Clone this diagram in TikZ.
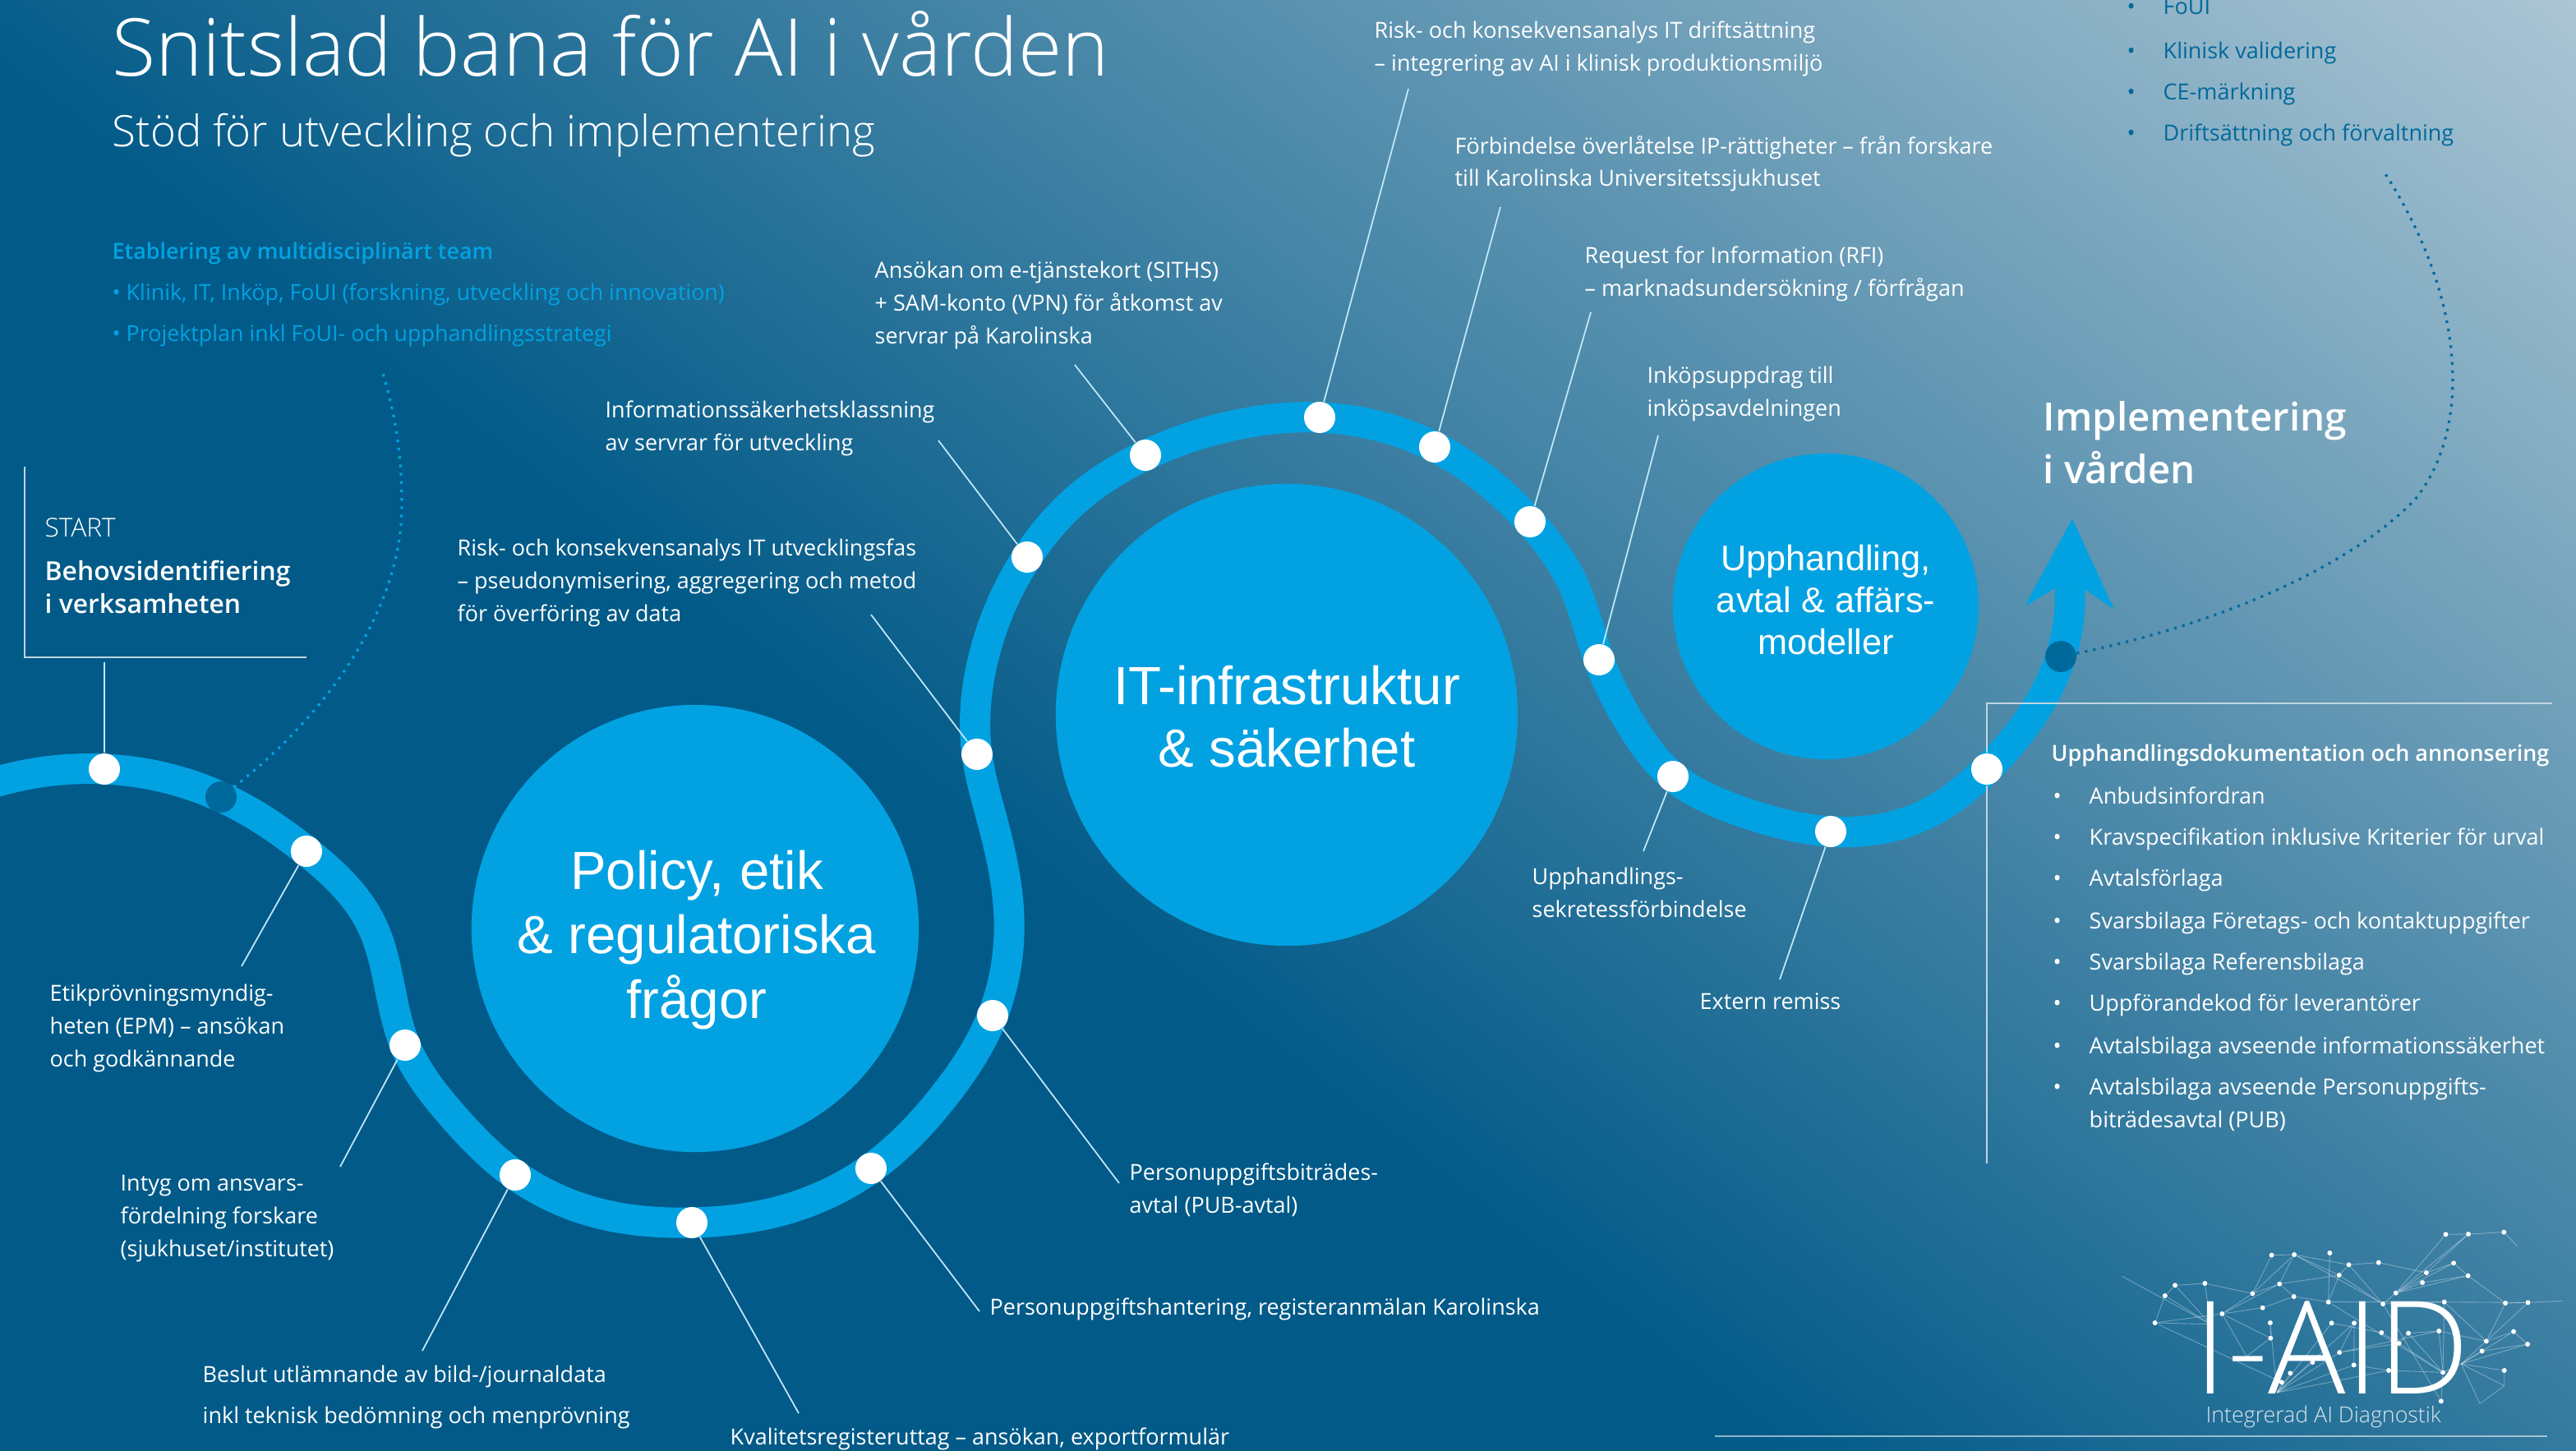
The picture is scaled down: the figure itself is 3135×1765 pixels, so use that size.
\documentclass[tikz,border=0pt]{standalone}
\usepackage{fontspec}
\usetikzlibrary{hobby}
\setmainfont{Open Sans}
\newfontfamily\lightfont{Open Sans Light}
\newfontfamily\semifont{Open Sans Semibold}
\newfontfamily\arialfont{Liberation Sans}

\definecolor{bgdark}{HTML}{015A88}
\definecolor{bglight}{HTML}{ABC5D4}
\definecolor{bgend}{HTML}{C8DAE4}
\definecolor{bandblue}{HTML}{02A2E2}
\definecolor{dotblue}{HTML}{00699B}
\pgfdeclarehorizontalshading{bgshade}{100bp}{color(0bp)=(bgdark); color(45.7bp)=(bgdark); color(70.7bp)=(bglight); color(75bp)=(bgend); color(100bp)=(bgend)}

\tikzset{
	band/.style={bandblue,line width=0.37cm},
	bubble/.style={circle,fill=bandblue,inner sep=0pt},
	bubbletext/.style={text=white,align=center,inner sep=0pt},
	whitedot/.style={circle,fill=white,minimum size=0.38cm,inner sep=0pt},
	darkdot/.style={circle,fill=dotblue,minimum size=0.38cm,inner sep=0pt},
	leader/.style={white!75!bandblue,line width=0.5pt},
	frameline/.style={white!75!bgdark,line width=0.5pt},
	lbl/.style={anchor=west,align=left,inner sep=0pt,text=white,font=\fontsize{7.67}{11.34}\selectfont,execute at begin node=\strut,execute at end node=\strut},
	bluelbl/.style={lbl,text=bandblue},
	darklbl/.style={lbl,text=dotblue},
	semilbl/.style={lbl,font=\fontsize{7.65}{11.34}\selectfont\semifont},
	netdot/.style={circle,fill=white,minimum size=0.06cm,inner sep=0pt},
	netline/.style={white,opacity=0.35,line width=0.25pt}
}

\begin{document}
\begin{tikzpicture}[x=0.01cm,y=-0.01cm]
	\useasboundingbox (0,0) rectangle (3135,1765);
	%background
	\begin{scope}
		\clip (0,0) rectangle (3135,1765);
		\shade[shading=bgshade,transform canvas={rotate around={52.3:(1567,882)}}] (-433,-1118) rectangle (3567,2882);
	\end{scope}

	%title
	\node[lbl,font=\fontsize{27.6}{32}\selectfont\lightfont] (title) at (136,70) {Snitslad bana för AI i vården};
	\node[lbl,font=\fontsize{15}{18}\selectfont\lightfont] (subtitle) at (136,166) {Stöd för utveckling och implementering};

	%team
	\node[bluelbl,font=\fontsize{7.65}{11.34}\selectfont\semifont] (team) at (136,308) {Etablering av multidisciplinärt team};
	\node[bluelbl,font=\fontsize{7.63}{11.34}\selectfont] (team1) at (136,358) {• Klinik, IT, Inköp, FoUI (forskning, utveckling och innovation)};
	\node[bluelbl,font=\fontsize{7.63}{11.34}\selectfont] (team2) at (136,408) {• Projektplan inkl FoUI- och upphandlingsstrategi};

	%band
	\draw[band,use Hobby shortcut] (-30,960) .. (127,936) .. (269,970) .. (373,1036) .. (452,1125) .. (493,1272) .. (550,1357) .. (627,1430) .. (722,1475) .. (842,1488) .. (956,1472) .. (1060,1422) .. (1148,1335) .. (1208,1236) .. (1228,1117) .. (1208,1000) .. (1189,918) .. (1197,800) .. (1250,678) .. (1310,608) .. (1394,554) .. (1500,518) .. (1606,508) .. (1746,544) .. (1862,635) .. (1915,712) .. (1946,803) .. (1985,882) .. (2036,945) .. (2117,987) .. (2228,1012) .. (2335,995) .. (2418,936) .. (2470,875) .. (2508,799) .. (2519,716);
	\fill[bandblue] (2522,631) -- (2573,742) -- (2537,717) -- (2501,716) -- (2464,738) -- cycle;%head

	%circles
	\node[bubble,minimum size=5.44cm] (policy) at (846,1130) {};
	\node[bubble,minimum size=5.62cm] (infra) at (1566,870) {};
	\node[bubble,minimum size=3.72cm] (avtal) at (2222,738) {};
	\node[bubbletext,font=\fontsize{18.6}{22.3}\selectfont\arialfont] (policytext) at (848,1144) {Policy, etik\\\& regulatoriska\\frågor};
	\node[bubbletext,font=\fontsize{18.6}{21.5}\selectfont\arialfont] (infratext) at (1566,872) {IT-infrastruktur\\\& säkerhet};
	\node[bubbletext,font=\fontsize{12.3}{14.5}\selectfont\arialfont] (avtaltext) at (2222,730) {Upphandling,\\avtal \& affärs-\\modeller};

	%start box
	\node[lbl,font=\fontsize{9}{11}\selectfont\lightfont] (start) at (54,646) {START};
	\node[semilbl,font=\fontsize{9.05}{11.34}\selectfont\semifont] (behov) at (54,720) {Behovsidentifiering\\i verksamheten};
	\coordinate (boxtop) at (30,568);
	\coordinate (boxcorner) at (30,800);
	\coordinate (boxend) at (373,800);
	\coordinate (boxstem) at (127,806);
	\draw[frameline] (boxtop) -- (boxcorner) -- (boxend);

	%labels
	\node[lbl] (epm) at (60,1254) {Etikprövningsmyndig-\\heten (EPM) – ansökan\\och godkännande};
	\node[lbl] (intyg) at (146,1486) {Intyg om ansvars-\\fördelning forskare\\(sjukhuset/institutet)};
	\node[lbl] (beslut) at (246,1703) {Beslut utlämnande av bild-/journaldata\\[1mm]inkl teknisk bedömning och menprövning};
	\node[lbl] (kvalitet) at (888,1750) {Kvalitetsregisteruttag – ansökan, exportformulär};
	\node[lbl] (hantering) at (1204,1592) {Personuppgiftshantering, registeranmälan Karolinska};
	\node[lbl] (bitrade) at (1374,1452) {Personuppgiftsbiträdes-\\avtal (PUB-avtal)};
	\node[lbl] (riskutv) at (556,712) {Risk- och konsekvensanalys IT utvecklingsfas\\– pseudonymisering, aggregering och metod\\för överföring av data};
	\node[lbl] (klass) at (736,524) {Informationssäkerhetsklassning\\av servrar för utveckling};
	\node[lbl] (siths) at (1064,374) {Ansökan om e-tjänstekort (SITHS)\\+ SAM-konto (VPN) för åtkomst av\\servrar på Karolinska};
	\node[lbl] (riskdrift) at (1672,62) {Risk- och konsekvensanalys IT driftsättning\\– integrering av AI i klinisk produktionsmiljö};
	\node[lbl] (ip) at (1770,202) {Förbindelse överlåtelse IP-rättigheter – från forskare\\till Karolinska Universitetssjukhuset};
	\node[lbl] (rfi) at (1928,336) {Request for Information (RFI)\\– marknadsundersökning / förfrågan};
	\node[lbl] (inkop) at (2004,482) {Inköpsuppdrag till\\inköpsavdelningen};
	\node[lbl] (sekretess) at (1864,1092) {Upphandlings-\\sekretessförbindelse};
	\node[lbl] (remiss) at (2068,1220) {Extern remiss};
	\node[lbl,font=\fontsize{13.5}{18}\selectfont\semifont] (impl) at (2486,548) {Implementering\\i vården};

	%free ends of leaders
	\coordinate (l2) at (294,1176);
	\coordinate (l3) at (414,1420);
	\coordinate (l4) at (514,1644);
	\coordinate (l5) at (972,1720);
	\coordinate (l6) at (1192,1596);
	\coordinate (l7) at (1362,1440);
	\coordinate (l8) at (1060,748);
	\coordinate (l9) at (1142,536);
	\coordinate (l10) at (1308,444);
	\coordinate (l11) at (1714,108);
	\coordinate (l12) at (1826,252);
	\coordinate (l13) at (1936,380);
	\coordinate (l14) at (2018,530);
	\coordinate (l15) at (2000,1036);
	\coordinate (l16) at (2166,1192);
	\coordinate (frameend) at (2418,1416);
	\coordinate (framecorner) at (2418,856);
	\coordinate (frametop) at (3106,856);

	%dots
	\node[whitedot] (d1) at (127,936) {};
	\node[darkdot] (dteam) at (269,970) {};
	\node[whitedot] (d2) at (373,1036) {};
	\node[whitedot] (d3) at (493,1272) {};
	\node[whitedot] (d4) at (627,1430) {};
	\node[whitedot] (d5) at (842,1488) {};
	\node[whitedot] (d6) at (1060,1422) {};
	\node[whitedot] (d7) at (1208,1236) {};
	\node[whitedot] (d8) at (1189,918) {};
	\node[whitedot] (d9) at (1250,678) {};
	\node[whitedot] (d10) at (1394,554) {};
	\node[whitedot] (d11) at (1606,508) {};
	\node[whitedot] (d12) at (1746,544) {};
	\node[whitedot] (d13) at (1862,635) {};
	\node[whitedot] (d14) at (1946,803) {};
	\node[whitedot] (d15) at (2036,945) {};
	\node[whitedot] (d16) at (2228,1012) {};
	\node[whitedot] (d17) at (2418,936) {};
	\node[darkdot] (dimpl) at (2508,799) {};

	%leaders
	\draw[leader] (boxstem) -- (d1);
	\draw[leader] (l2) -- (d2);
	\draw[leader] (l3) -- (d3);
	\draw[leader] (l4) -- (d4);
	\draw[leader] (l5) -- (d5);
	\draw[leader] (l6) -- (d6);
	\draw[leader] (l7) -- (d7);
	\draw[leader] (l8) -- (d8);
	\draw[leader] (l9) -- (d9);
	\draw[leader] (l10) -- (d10);
	\draw[leader] (l11) -- (d11);
	\draw[leader] (l12) -- (d12);
	\draw[leader] (l13) -- (d13);
	\draw[leader] (l14) -- (d14);
	\draw[leader] (l15) -- (d15);
	\draw[leader] (l16) -- (d16);
	\draw[frameline] (d17) -- (frameend);
	\draw[frameline] (d17) -- (framecorner) -- (frametop);

	%dotted curves
	\coordinate (teamend) at (465,451);
	\coordinate (prodend) at (2900,207);
	\draw[bandblue,dotted,line width=0.9pt] (dteam) .. controls (410,860) and (490,730) .. (489,614) .. controls (489,550) and (480,500) .. (teamend);
	\draw[dotblue,dotted,line width=0.9pt] (dimpl) .. controls (2700,760) and (2860,690) .. (2939,608) .. controls (3010,520) and (3000,360) .. (prodend);

	%upphandling list
	\node[semilbl] (doc) at (2496,918) {Upphandlingsdokumentation och annonsering};
	\foreach \y/\item [count=\i] in {970/Anbudsinfordran,1020/Kravspecifikation inklusive Kriterier för urval,1070/Avtalsförlaga,1122/Svarsbilaga Företags- och kontaktuppgifter,1172/Svarsbilaga Referensbilaga,1222/Uppförandekod för leverantörer,1274/Avtalsbilaga avseende informationssäkerhet}{
		\node[lbl] (bull\i) at (2498,\y) {•};
		\node[lbl] (doc\i) at (2542,\y) {\item};
	}
	\node[lbl] (bull8) at (2498,1324) {•};
	\node[lbl] (doc8) at (2542,1348) {Avtalsbilaga avseende Personuppgifts-\\biträdesavtal (PUB)};

	%produkt list
	\foreach \y/\item [count=\i] in {10/FoUI,64/Klinisk validering,114/CE-märkning,164/Driftsättning och förvaltning}{
		\node[darklbl] (pbull\i) at (2588,\y) {•};
		\node[darklbl] (prod\i) at (2632,\y) {\item};
	}

	%logo
	\begin{scope}[shift={(2450,1420)},xscale=0.4369,yscale=0.3333]
		\foreach \n/\x/\y in {a/720/323,b/783/321,c/882/315,d/935/358,e/1018/350,f/908/396,g/742/428,h/667/463,i/782/474,j/451/433,k/534/426,l/423/471,m/582/537,o/695/515,q/395/570,p/716/570,r/717/626,s/878/494,t/1030/501,u/1066/461,v/1140/423,w/1151/387,x/1227/352,y/1267/398,z/1205/247,aa/1268/246,ab/1367/239,ac/1201/494,ad/1371/498,ae/1434/496,af/887/571,ag/950/571,ah/1026/606,ai/1101/608,aj/1186/600,ak/1318/637,al/1394/602,am/1433/648,an/1306/673,ao/1075/645,ap/909/678,aq/949/724,ar/1046/744,as/1197/751,at/1368/744,au/834/714,av/772/754,aw/748/787,ax/1192/856}{
			\node[netdot] (n\n) at (\x,\y) {};
		}
		\coordinate (nf1) at (303,400);
		\coordinate (nf2) at (650,692);
		\coordinate (nf3) at (1404,290);
		\coordinate (nf4) at (1530,490);
		\coordinate (nf5) at (1300,865);
		\coordinate (nf6) at (1368,800);
		\coordinate (nf7) at (735,825);
		\coordinate (nf8) at (1248,720);
		\coordinate (nf9) at (550,575);
		\foreach \p/\q in {a/b,a/h,b/h,b/g,b/d,b/f,g/f,g/h,h/k,k/j,j/l,l/q,q/f9,j/f9,l/f9,k/f9,f1/f9,q/m,m/o,m/h,m/g,m/r,m/f2,r/f2,r/p,p/f7,i/g,i/s,i/o,c/s,f/s,f/d,d/e,d/t,e/w,f/t,b/t,t/u,u/v,u/w,u/x,u/y,v/y,w/x,w/aa,u/z,u/aa,z/aa,aa/ab,ab/f3,x/y,y/ad,s/ac,ac/ae,ae/f4,t/ac,ad/ae,ad/ak,ak/ae,ac/ak,ak/al,al/am,ak/f8,an/am,an/f8,al/f8,am/f8,f8/at,f8/f5,f8/f6,at/f6,f5/f6,af/ah,ah/ao,ao/as,ai/aj,ai/as,aj/as,aj/ak,ao/ai,ag/aq,ag/ap,ag/f7,af/f7,ap/f7,aq/f7,ar/f7,as/ar,ar/aq,ap/ao,ap/aj,as/f8,as/ax,ac/as,s/as,f7/au,f7/av,f7/aw,t/ax,q/aw}{
			\draw[netline] (n\p) -- (n\q);
		}
	\end{scope}
	\node[lbl,font=\fontsize{44.7}{46}\selectfont\lightfont,execute at begin node={},execute at end node={},text depth=0pt] (iaid) at (2670,1640) {I-AID};
	\node[lbl,font=\fontsize{7.6}{11}\selectfont\lightfont,text=white!85!bgdark] (iaidsub) at (2684,1724) {Integrerad AI Diagnostik};
	\coordinate (rulea) at (2087,1748);
	\coordinate (ruleb) at (3100,1748);
	\draw[white,opacity=0.55,line width=0.8pt] (rulea) -- (ruleb);
\end{tikzpicture}
\end{document}
